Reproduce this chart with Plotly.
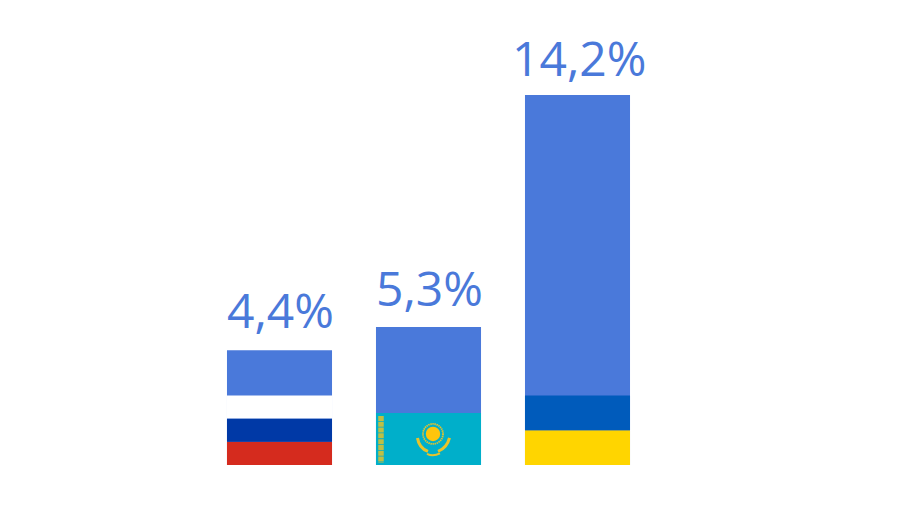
import base64
import plotly.graph_objects as go

countries = ["Россия", "Казахстан", "Украина"]
values = [4.4, 5.3, 14.2]
labels = ["4,4%", "5,3%", "14,2%"]

# Flag bands, bottom to top, in chart units
band_low_heights = [0.89, 2.0, 1.335]
band_low_colors = ["#D52B1E", "#00AFCA", "#FFD500"]
band_mid_heights = [0.89, 0, 1.335]
band_mid_colors = ["#0039A6", "#00AFCA", "#005BBB"]
band_top_heights = [0.89, 0, 0]
band_top_colors = ["#FFFFFF", "#FFFFFF", "#FFFFFF"]

BLUE = "#4A79DA"
GOLD = "#E8C32A"
label_lifts = [6.5, 5, 3.5]

fig = go.Figure()
fig.add_bar(x=countries, y=values, marker_color=BLUE, marker_line_width=0, hoverinfo="x+y")

bases_mid = band_low_heights
bases_top = [a + b for a, b in zip(band_low_heights, band_mid_heights)]
for h, c, b in [
    (band_low_heights, band_low_colors, [0, 0, 0]),
    (band_mid_heights, band_mid_colors, bases_mid),
    (band_top_heights, band_top_colors, bases_top),
]:
    fig.add_bar(x=countries, y=h, base=b, marker_color=c, marker_line_width=0, hoverinfo="skip")

# Kazakh emblem and ornament as vector decoration placed on the axes
emblem_svg = f"""<svg xmlns='http://www.w3.org/2000/svg' viewBox='0 0 105 52'>
<circle cx='57' cy='21' r='7.2' fill='#FEC50C'/>
<circle cx='57' cy='21' r='10' fill='none' stroke='{GOLD}' stroke-width='1.8' stroke-dasharray='1.4 0.7'/>
<path d='M41.5 25 Q43 35 52 38.5' fill='none' stroke='{GOLD}' stroke-width='3'/>
<path d='M73.5 25 Q71 35 62 38.5' fill='none' stroke='{GOLD}' stroke-width='3'/>
<path d='M51 41 Q57 44 64 40.5' fill='none' stroke='{GOLD}' stroke-width='2'/>
<line x1='5' y1='3' x2='5' y2='50' stroke='#BDBF45' stroke-width='5.5' stroke-dasharray='5 0.8'/>
</svg>"""
emblem_uri = "data:image/svg+xml;base64," + base64.b64encode(emblem_svg.encode()).decode()
fig.add_layout_image(
    source=emblem_uri, xref="x", yref="y", x=1 - 0.3524, y=2.0,
    sizex=0.7047, sizey=2.0, xanchor="left", yanchor="top",
    sizing="stretch", layer="above",
)

for c, v, t, lift in zip(countries, values, labels, label_lifts):
    fig.add_annotation(
        x=c, y=v, text=t, showarrow=False, yanchor="bottom", yshift=lift, xshift=1,
        font=dict(family="Open Sans", size=48, color=BLUE),
    )

fig.update_layout(
    width=881, height=491, margin=dict(l=197, r=237, t=49, b=34, pad=0),
    barmode="overlay", bargap=0.295, showlegend=False,
    paper_bgcolor="white", plot_bgcolor="white",
    xaxis=dict(visible=False, type="category", range=[-0.5, 2.5]),
    yaxis=dict(visible=False, range=[0, 15.66]),
)
fig.write_html("out.html", config={"displayModeBar": False})
